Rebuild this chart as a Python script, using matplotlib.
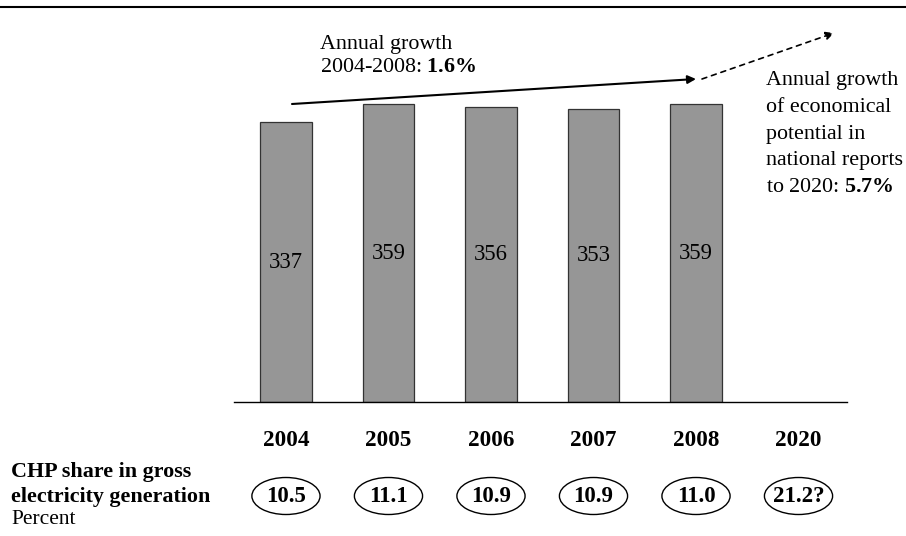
import numpy as np
import matplotlib.pyplot as plt
from matplotlib.patches import Ellipse
from matplotlib.lines import Line2D
import matplotlib.transforms as mtransforms

plt.rcParams['font.family'] = ['Liberation Serif', 'DejaVu Serif']
plt.rcParams['mathtext.fontset'] = 'custom'
plt.rcParams['mathtext.rm'] = 'Liberation Serif'
plt.rcParams['mathtext.bf'] = 'Liberation Serif:bold'

years = ['2004', '2005', '2006', '2007', '2008', '2020']
chp_twh = [337, 359, 356, 353, 359]
chp_share = ['10.5', '11.1', '10.9', '10.9', '11.0', '21.2?']

W, H = 906, 536
fig = plt.figure(figsize=(W / 100, H / 100), dpi=100)

# axes placed so baseline sits at y=402px, bars centred 102.5px apart
ax = fig.add_axes([234 / W, (H - 402) / H, (847 - 234) / W, 332 / H])
x = np.arange(len(years))
ax.bar(x[:len(chp_twh)], chp_twh, width=0.5, color='#969696', edgecolor='#333333', linewidth=0.9)
ax.set_xlim(-0.507, 5.473)
ax.set_ylim(0, 400)
for s in ['top', 'right', 'left']:
    ax.spines[s].set_visible(False)
ax.spines['bottom'].set_linewidth(1.0)
ax.set_yticks([])
ax.set_xticks(x)
ax.set_xticklabels(years, fontsize=16.7, fontweight='bold')
ax.tick_params(axis='x', length=0, pad=20)

for xi, v in zip(x, chp_twh):
    ax.text(xi, v / 2, str(v), ha='center', va='center', fontsize=16.3)

# ellipses with CHP share
trans = mtransforms.blended_transform_factory(ax.transData, ax.transAxes)
ey = -(496 - 402) / 332
for xi, s in zip(x, chp_share):
    ax.add_patch(Ellipse((xi, ey), 0.665, 37 / 332, transform=trans, clip_on=False,
                         facecolor='white', edgecolor='black', linewidth=1.0))
    ax.text(xi, ey, s, transform=trans, ha='center', va='center', fontsize=16.5, fontweight='bold')

# top rule
fig.add_artist(Line2D([0, 1], [1 - 7 / H, 1 - 7 / H], color='black', linewidth=1.5))

def fp(px, py):
    return (px / W, 1 - py / H)

ax.annotate('', xy=fp(696, 79), xytext=fp(292, 104), xycoords='figure fraction',
            textcoords='figure fraction',
            arrowprops=dict(arrowstyle='-|>', color='black', lw=1.5, mutation_scale=12,
                            shrinkA=0, shrinkB=0))
ax.annotate('', xy=fp(834, 33), xytext=fp(702, 79), xycoords='figure fraction',
            textcoords='figure fraction',
            arrowprops=dict(arrowstyle='-|>', color='black', lw=1.2, linestyle=(0, (3, 3)),
                            mutation_scale=12, shrinkA=0, shrinkB=0))

fig.text(*fp(320, 45), 'Annual growth', fontsize=15.8, va='center', ha='left')
fig.text(*fp(320, 68), '2004-2008: $\\mathbf{1.6\\%}$', fontsize=15.8, va='center', ha='left')

right_lines = ['Annual growth', 'of economical', 'potential in', 'national reports']
for i, t in enumerate(right_lines):
    fig.text(*fp(766, 81 + 26.6 * i), t, fontsize=15.8, va='center', ha='left')
fig.text(*fp(766, 187), 'to 2020: $\\mathbf{5.7\\%}$', fontsize=15.8, va='center', ha='left')

fig.text(*fp(11, 472), 'CHP share in gross', fontsize=15.8, fontweight='bold', va='center', ha='left')
fig.text(*fp(11, 497), 'electricity generation', fontsize=15.8, fontweight='bold', va='center', ha='left')
fig.text(*fp(11, 520), 'Percent', fontsize=15.5, va='center', ha='left')

fig.savefig('out.png', dpi=100)
